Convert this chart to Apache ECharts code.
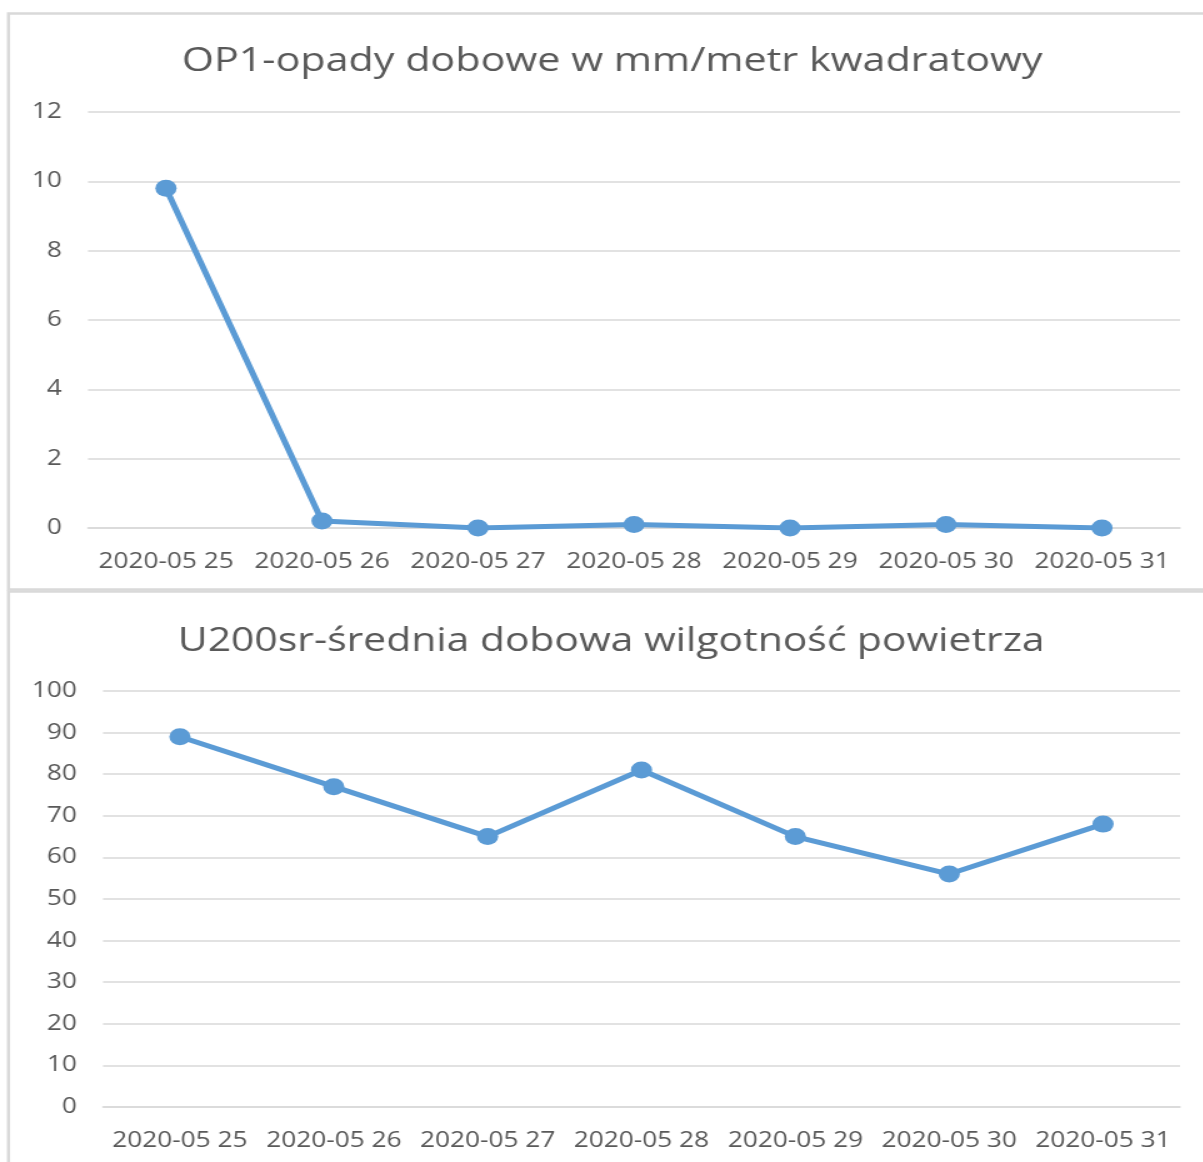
<!DOCTYPE html>
<html>
<head>
<meta charset="utf-8">
<script src="https://cdn.jsdelivr.net/npm/echarts@6/dist/echarts.min.js"></script>
<style>
	html, body { margin: 0; padding: 0; background: #fff; overflow: hidden; }
	/* the reference is an Excel chart stretched sideways, so the canvas is drawn narrow and stretched */
	#main { width: 962px; height: 1162px; transform: scaleX(1.25); transform-origin: 0 0; }
</style>
</head>
<body>
<div id="main"></div>
<script>
var days = ['2020-05 25', '2020-05 26', '2020-05 27', '2020-05 28', '2020-05 29', '2020-05 30', '2020-05 31'];
var opadyTitle = 'OP1-opady dobowe w mm/metr kwadratowy';
var opadyData = [9.8, 0.2, 0, 0.1, 0, 0.1, 0];
var wilgTitle = 'U200sr-średnia dobowa wilgotność powietrza';
var wilgData = [89, 77, 65, 81, 65, 56, 68];

var SX = 1.25; // horizontal stretch
var textColor = '#595959';
var gridColor = '#d9d9d9';
var lineColor = '#5b9bd5';
var font = 'Open Sans';

var chart = echarts.init(document.getElementById('main'), null, {renderer: 'canvas'});

function xAxisOpt(gridIndex) {
	return {
		type: 'category',
		gridIndex: gridIndex,
		data: days,
		boundaryGap: true,
		axisLine: {show: true, lineStyle: {color: gridColor, width: 1.5}},
		axisTick: {show: false},
		axisLabel: {color: textColor, fontSize: 21, fontFamily: font, margin: 24, interval: 0}
	}
}
function yAxisOpt(gridIndex, max, interval) {
	return {
		type: 'value',
		gridIndex: gridIndex,
		min: 0,
		max: max,
		interval: interval,
		axisLine: {show: false},
		axisTick: {show: false},
		splitLine: {lineStyle: {color: gridColor, width: 1.5}},
		axisLabel: {color: textColor, fontSize: 21, fontFamily: font, margin: 21, padding: [3, 0, 0, 0]}
	}
}
function seriesOpt(idx, data) {
	return {
		type: 'line',
		xAxisIndex: idx,
		yAxisIndex: idx,
		data: data,
		symbol: 'circle',
		symbolSize: 17,
		lineStyle: {color: lineColor, width: 5},
		itemStyle: {color: lineColor},
		animation: false
	}
}

chart.setOption({
	backgroundColor: '#fff',
	title: [
		{text: opadyTitle, left: 606 / SX, top: 40, textAlign: 'center',
			textStyle: {color: textColor, fontSize: 33, fontWeight: 'normal', fontFamily: font}},
		{text: wilgTitle, left: 605 / SX, top: 620, textAlign: 'center',
			textStyle: {color: textColor, fontSize: 32.7, fontWeight: 'normal', fontFamily: font}}
	],
	grid: [
		{left: 88 / SX, top: 112, width: 1092 / SX, height: 416},
		{left: 103 / SX, top: 691, width: 1077 / SX, height: 416}
	],
	xAxis: [xAxisOpt(0), xAxisOpt(1)],
	yAxis: [yAxisOpt(0, 12, 2), yAxisOpt(1, 100, 10)],
	series: [seriesOpt(0, opadyData), seriesOpt(1, wilgData)],
	graphic: [
		{type: 'rect', shape: {x: 8.5 / SX, y: 13.5, width: 1300, height: 576},
			style: {fill: null, stroke: gridColor, lineWidth: 2.5}, silent: true},
		{type: 'rect', shape: {x: 8.5 / SX, y: 591.5, width: 1300, height: 700},
			style: {fill: null, stroke: gridColor, lineWidth: 2.5}, silent: true}
	]
});
</script>
</body>
</html>
